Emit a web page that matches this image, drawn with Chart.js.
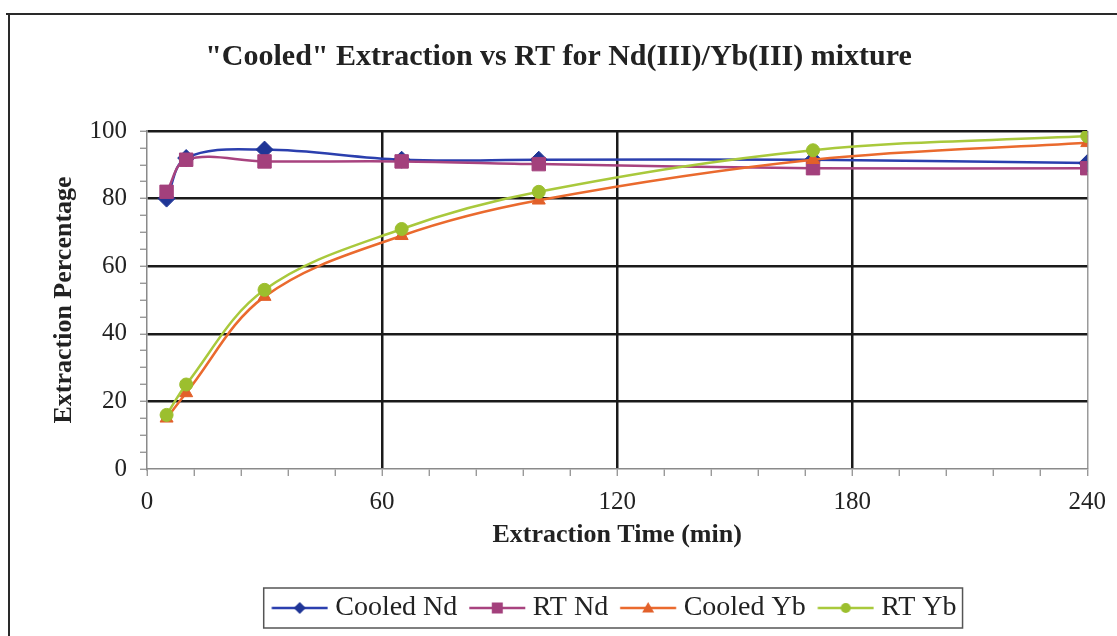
<!DOCTYPE html>
<html><head><meta charset="utf-8">
<script src="https://cdn.jsdelivr.net/npm/chart.js@4.4.1/dist/chart.umd.min.js"></script>
<style>html,body{margin:0;padding:0;background:#fff;}#wrap{width:1117px;height:636px;position:relative;}</style>
</head><body><div id="wrap"><canvas id="c" width="1117" height="636"></canvas></div>
<script>
const extractionTimes = [5, 10, 30, 65, 100, 170, 240];
const cooledNd = [80, 92, 94.5, 91.5, 91.5, 91.5, 90.5];
const rtNd = [82, 91.5, 91, 91, 90.2, 89, 89];
const cooledYb = [15, 22.5, 51, 69, 79.5, 91.5, 96.5];
const rtYb = [16, 25, 53, 71, 82, 94.3, 98.5];
const seriesNames = ['Cooled Nd', 'RT Nd', 'Cooled Yb', 'RT Yb'];
const xTickLabels = [0, 60, 120, 180, 240];
const yTickLabels = [0, 20, 40, 60, 80, 100];
const chartTitle = '"Cooled" Extraction vs RT for Nd(III)/Yb(III) mixture';
const xTitle = 'Extraction Time (min)';
const yTitle = 'Extraction Percentage';

const SERIF = '"Liberation Serif", "Times New Roman", serif';
const styles = [
  {line: '#2b3fae', fill: '#1f3596', shape: 'rectRot', r: 8.5},
  {line: '#a8437f', fill: '#a3407c', shape: 'rect', r: 9.5},
  {line: '#ea6a2e', fill: '#e2602a', shape: 'triangle', r: 7.5},
  {line: '#a9c93c', fill: '#9cbf2e', shape: 'circle', r: 6.5}
];
const seriesValues = [cooledNd, rtNd, cooledYb, rtYb];

function legendIcon(st) {
  const c = document.createElement('canvas');
  c.width = 70; c.height = 18;
  const g = c.getContext('2d');
  const a = 13.25, L = 56, m = a + L / 2, cy = 9;
  g.strokeStyle = st.line; g.lineWidth = 2.5;
  g.beginPath(); g.moveTo(a, cy); g.lineTo(a + L, cy); g.stroke();
  g.fillStyle = st.fill;
  g.beginPath();
  if (st.shape === 'rectRot') { g.moveTo(m, cy - 6); g.lineTo(m + 6, cy); g.lineTo(m, cy + 6); g.lineTo(m - 6, cy); }
  else if (st.shape === 'rect') { g.rect(m - 5.5, cy - 5.5, 11, 11); }
  else if (st.shape === 'triangle') { g.moveTo(m, cy - 6); g.lineTo(m + 6, cy + 4.5); g.lineTo(m - 6, cy + 4.5); }
  else { g.arc(m, cy, 5, 0, Math.PI * 2); }
  g.closePath(); g.fill();
  return c;
}
const icons = styles.map(legendIcon);

const datasets = seriesNames.map((name, i) => ({
  label: name,
  data: extractionTimes.map((t, k) => ({x: t, y: seriesValues[i][k]})),
  borderColor: styles[i].line,
  backgroundColor: styles[i].fill,
  pointBackgroundColor: styles[i].fill,
  pointBorderColor: styles[i].fill,
  pointStyle: styles[i].shape,
  pointRadius: styles[i].r,
  pointBorderWidth: 1,
  borderWidth: 2.5,
  tension: 0.36,
  order: 4 - i
}));

const framePlugin = {
  id: 'frame',
  afterLayout(chart) {
    if (chart.legend) { chart.legend.left -= 6; chart.legend.right -= 6; }
  },
  beforeDraw(chart) {
    const ctx = chart.ctx;
    ctx.save();
    ctx.fillStyle = '#fff';
    ctx.fillRect(0, 0, chart.width, chart.height);
    ctx.strokeStyle = '#2a2a2a'; ctx.lineWidth = 2;
    ctx.beginPath(); ctx.moveTo(6, 14); ctx.lineTo(chart.width, 14);
    ctx.moveTo(9, 14); ctx.lineTo(9, chart.height); ctx.stroke();
    ctx.restore();
  },
  afterDraw(chart) {
    const boxes = chart.legend && chart.legend.legendHitBoxes;
    if (!boxes || !boxes.length) return;
    let x0 = Infinity, x1 = -Infinity, y0 = Infinity, y1 = -Infinity;
    boxes.forEach(b => { x0 = Math.min(x0, b.left); x1 = Math.max(x1, b.left + b.width); y0 = Math.min(y0, b.top); y1 = Math.max(y1, b.top + b.height); });
    const ctx = chart.ctx;
    ctx.save(); ctx.strokeStyle = '#555'; ctx.lineWidth = 1.5;
    ctx.strokeRect(x0 - 2, y0 - 6, x1 - x0 + 8, y1 - y0 + 12);
    ctx.restore();
  }
};

new Chart(document.getElementById('c'), {
  type: 'line',
  data: {datasets},
  options: {
    responsive: false,
    animation: false,
    layout: {padding: {left: 28, right: 28, top: 0, bottom: 4}},
    plugins: {
      tooltip: {enabled: false},
      title: {display: true, text: chartTitle, color: '#222', font: {family: SERIF, size: 30, weight: 'bold'}, padding: {top: 39, bottom: 56}},
      legend: {
        position: 'bottom',
        fullSize: false,
        labels: {
          usePointStyle: true, pointStyleWidth: 55.5, padding: 6, color: '#222',
          font: {family: SERIF, size: 28},
          generateLabels: (chart) => chart.data.datasets.map((ds, i) => ({
            text: ds.label, pointStyle: icons[i], fillStyle: styles[i].fill, strokeStyle: styles[i].line,
            lineWidth: 0, hidden: false, datasetIndex: i, fontColor: '#222'
          }))
        }
      }
    },
    scales: {
      x: {
        type: 'linear', min: 0, max: 240,
        afterFit: (s) => { s.height = 119; },
        ticks: {
          stepSize: 12, autoSkip: false, maxRotation: 0, padding: 11, color: '#222',
          font: {family: SERIF, size: 25},
          callback: (v) => xTickLabels.includes(v) ? String(v) : ''
        },
        grid: {
          color: (c) => { const v = c.tick.value; if (v === 0) return 'rgba(0,0,0,0)'; if (v === 240) return '#9a9a9a'; return v % 60 === 0 ? '#1a1a1a' : 'rgba(0,0,0,0)'; },
          lineWidth: (c) => c.tick.value === 240 ? 1.5 : 2.5,
          tickColor: '#888', tickLength: 7, tickWidth: 1.2
        },
        border: {display: true, color: '#8a8a8a', width: 1.5},
        title: {display: true, text: xTitle, color: '#222', font: {family: SERIF, size: 26, weight: 'bold'}, padding: {top: 0, bottom: 37}}
      },
      y: {
        min: 0, max: 100,
        afterFit: (s) => { s.width = 119; },
        ticks: {
          stepSize: 5, autoSkip: false, padding: 13, color: '#222',
          font: {family: SERIF, size: 25},
          callback: (v) => yTickLabels.includes(v) ? String(v) : ''
        },
        grid: {
          color: (c) => { const v = c.tick.value; if (v === 0) return 'rgba(0,0,0,0)'; return v % 20 === 0 ? '#1a1a1a' : 'rgba(0,0,0,0)'; },
          lineWidth: 2.5,
          tickColor: '#888', tickLength: 7, tickWidth: 1.2
        },
        border: {display: true, color: '#8a8a8a', width: 1.5},
        title: {display: true, text: yTitle, color: '#222', font: {family: SERIF, size: 26, weight: 'bold'}, padding: {top: 21, bottom: 0}}
      }
    }
  },
  plugins: [framePlugin]
});
</script></body></html>
